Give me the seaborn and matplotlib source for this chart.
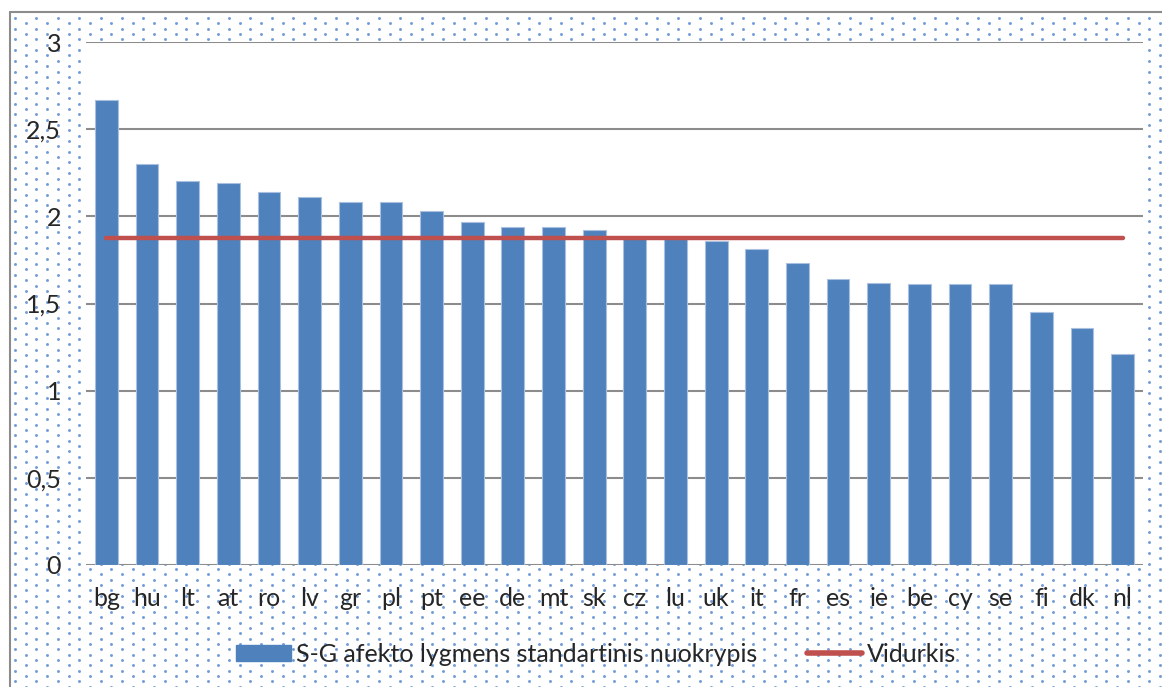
import numpy as np
import matplotlib
matplotlib.use("Agg")
import matplotlib.pyplot as plt
import seaborn as sns
from matplotlib.lines import Line2D
from matplotlib.patches import Patch
from matplotlib.ticker import FuncFormatter, MultipleLocator

# data
countries = ["bg", "hu", "lt", "at", "ro", "lv", "gr", "pl", "pt", "ee", "de", "mt", "sk",
             "cz", "lu", "uk", "it", "fr", "es", "ie", "be", "cy", "se", "fi", "dk", "nl"]
std_dev = [2.67, 2.30, 2.20, 2.19, 2.14, 2.11, 2.08, 2.08, 2.03, 1.97, 1.94, 1.94, 1.92,
           1.88, 1.87, 1.86, 1.81, 1.73, 1.64, 1.62, 1.61, 1.61, 1.61, 1.45, 1.36, 1.21]
average = 1.877
bar_label = "S-G afekto lygmens standartinis nuokrypis"
line_label = "Vidurkis"

BLUE = "#4f81bd"
RED = "#c0504d"
GRID = "#8c8c8c"

sns.set_style("white")
plt.rcParams["font.family"] = ["Lato", "DejaVu Sans"]

W, H = 1162, 687
fig = plt.figure(figsize=(W / 100, H / 100), dpi=100)
fig.patch.set_facecolor("white")

# dotted chart-area background with gray border (left/top)
bg = fig.add_axes([0, 0, 1, 1], zorder=-5)
bg.set_xlim(0, W)
bg.set_ylim(H, 0)
bg.axis("off")
step = 10.7
xs, ys = [], []
for i, x in enumerate(np.arange(15, W, step)):
    off = 0 if i % 2 == 0 else step / 2
    for y in np.arange(18 + off, H, step):
        xs.append(x)
        ys.append(y)
bg.scatter(xs, ys, s=4.5, color="#4f84cc", alpha=0.8, linewidths=0)
bg.plot([10, 10], [12, H], color="#8c8c8c", lw=1.5)
bg.plot([10, W], [12, 12], color="#8c8c8c", lw=1.5)

# plot area
left, right, top, bottom = 86, 1143, 42, 565
ax = fig.add_axes([left / W, 1 - bottom / H, (right - left) / W, (bottom - top) / H], zorder=1)
ax.set_facecolor("white")

sns.barplot(x=countries, y=std_dev, color=BLUE, width=0.56, saturation=1,
            edgecolor="#a9c0e0", linewidth=0.8, ax=ax, zorder=2)
sns.lineplot(x=np.arange(len(countries)), y=[average] * len(countries), color=RED,
             linewidth=3.2, sort=False, ax=ax, zorder=3)
ax.lines[-1].set_solid_capstyle("round")

ax.set_xlim(-0.5, len(countries) - 0.5)
ax.set_ylim(0, 3)
ax.yaxis.set_major_locator(MultipleLocator(0.5))
ax.yaxis.set_major_formatter(FuncFormatter(lambda v, p: f"{v:g}".replace(".", ",")))
ax.yaxis.grid(True, color=GRID, linewidth=1.5, zorder=0)
ax.set_axisbelow(True)
for s in ax.spines.values():
    s.set_visible(False)
ax.tick_params(axis="y", length=0, pad=18, labelsize=18)
ax.tick_params(axis="x", length=0, pad=16, labelsize=18)
ax.set_xlabel("")
ax.set_ylabel("")

handles = [Patch(facecolor=BLUE, edgecolor=BLUE, label=bar_label),
           Line2D([0], [0], color=RED, lw=4, solid_capstyle="round", label=line_label)]
fig.legend(handles=handles, loc="center", bbox_to_anchor=(0.513, 1 - 654 / H), ncol=2,
           frameon=False, fontsize=18, handlelength=2.2, handleheight=0.6,
           handletextpad=0.2, columnspacing=2.0)

fig.savefig("out.png", dpi=100, facecolor="white")
